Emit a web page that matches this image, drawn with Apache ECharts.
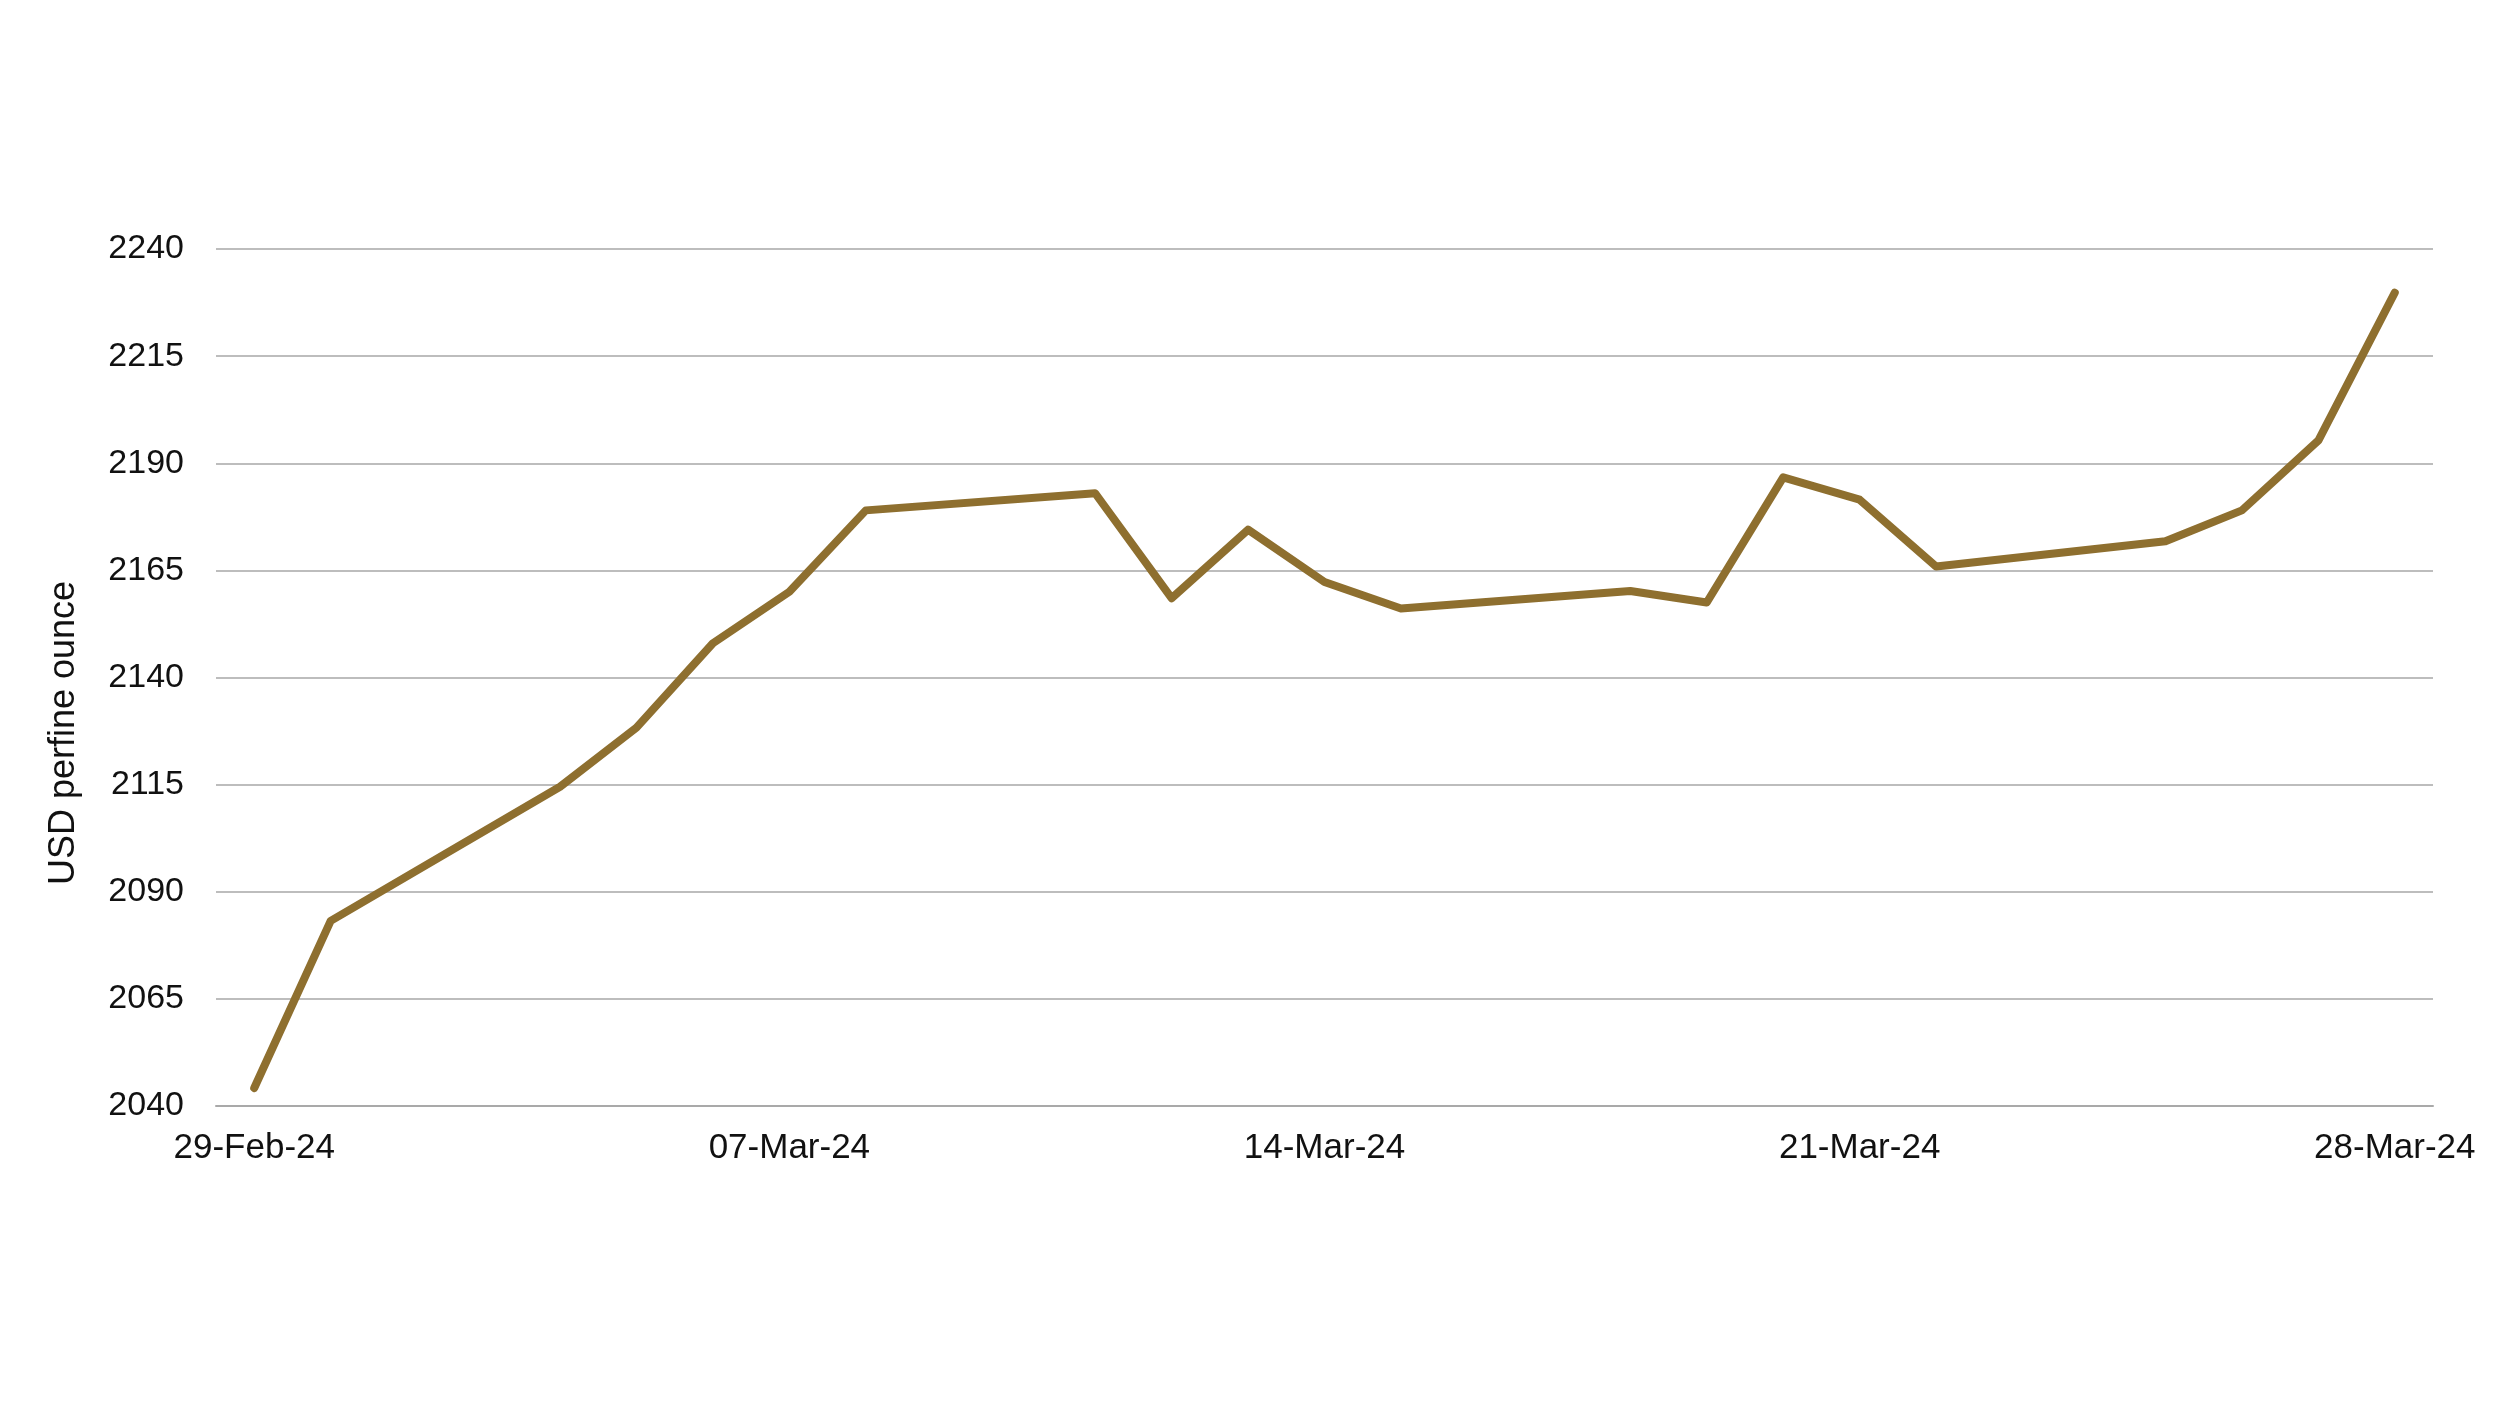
<!DOCTYPE html>
<html>
<head>
<meta charset="utf-8">
<title>Gold price</title>
<script src="https://cdn.jsdelivr.net/npm/echarts@6/dist/echarts.min.js"></script>
<style>
  html, body { margin: 0; padding: 0; background: #fff; }
  #chart { width: 2496px; height: 1404px; }
</style>
</head>
<body>
<div id="chart"></div>
<script>
  // every calendar day on the axis; weekends carry no price
  const days = [
    '29-Feb-24', '01-Mar-24', '02-Mar-24', '03-Mar-24', '04-Mar-24', '05-Mar-24', '06-Mar-24',
    '07-Mar-24', '08-Mar-24', '09-Mar-24', '10-Mar-24', '11-Mar-24', '12-Mar-24', '13-Mar-24',
    '14-Mar-24', '15-Mar-24', '16-Mar-24', '17-Mar-24', '18-Mar-24', '19-Mar-24', '20-Mar-24',
    '21-Mar-24', '22-Mar-24', '23-Mar-24', '24-Mar-24', '25-Mar-24', '26-Mar-24', '27-Mar-24',
    '28-Mar-24',
  ];
  const prices = [
    2044.2, 2083.2, null, null, 2114.5, 2128.3, 2148.0,
    2160.0, 2179.0, null, null, 2183.0, 2158.5, 2174.5,
    2162.3, 2156.1, null, null, 2160.2, 2157.5, 2186.7,
    2181.5, 2165.9, null, null, 2171.8, 2179.0, 2195.3,
    2229.8,
  ];
  const yMin = 2040;
  const yMax = 2240;
  const yStep = 25;
  const yTitle = 'USD perfine ounce';

  const font = "'Liberation Sans', Arial, sans-serif";
  const chart = echarts.init(document.getElementById('chart'));

  chart.setOption({
    animation: false,
    backgroundColor: '#ffffff',
    grid: { left: 216, right: 63, top: 249, bottom: 298 },
    xAxis: {
      type: 'category',
      data: days,
      boundaryGap: true,
      axisLine: { lineStyle: { color: '#a9a9a9', width: 2 } },
      axisTick: { show: false },
      axisLabel: {
        interval: 6,
        margin: 25,
        color: '#111',
        fontSize: 35,
        fontFamily: font,
      },
      splitLine: { show: false },
    },
    yAxis: {
      type: 'value',
      min: yMin,
      max: yMax,
      interval: yStep,
      axisLine: { show: false },
      axisTick: { show: false },
      axisLabel: {
        margin: 32,
        color: '#111',
        fontSize: 34,
        fontFamily: font,
        formatter: (value) => String(value),
      },
      splitLine: { lineStyle: { color: '#bdbdbd', width: 2 } },
    },
    graphic: [
      {
        type: 'text',
        x: 64,
        y: 733,
        rotation: Math.PI / 2,
        style: {
          text: yTitle,
          fill: '#111',
          font: `36px ${font}`,
          textAlign: 'center',
          textVerticalAlign: 'middle',
        },
      },
    ],
    series: [
      {
        type: 'line',
        data: prices,
        connectNulls: true,
        showSymbol: false,
        symbol: 'none',
        lineStyle: { color: '#8e6f2f', width: 8, cap: 'round', join: 'round' },
      },
    ],
  });
</script>
</body>
</html>
